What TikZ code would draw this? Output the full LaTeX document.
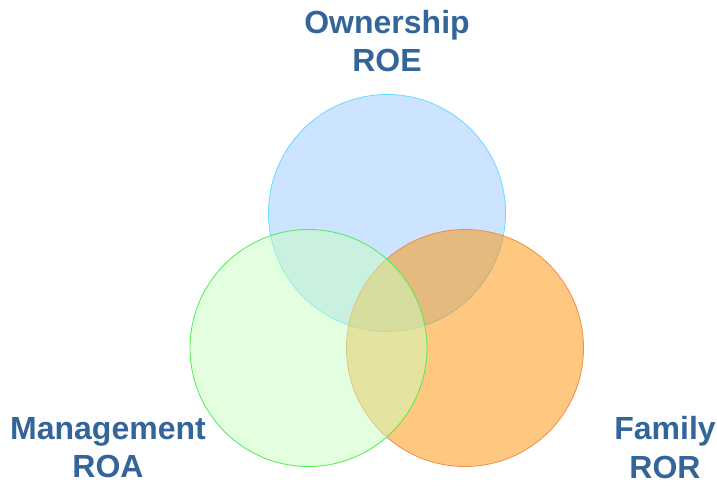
\documentclass[tikz,border=0pt]{standalone}
\usepackage{fontspec}
\setmainfont{Liberation Sans}
\usepackage{color}
\definecolor{titleblue}{RGB}{52,101,154}
\definecolor{ownfill}{RGB}{153,201,255}
\definecolor{ownline}{RGB}{100,220,255}
\definecolor{manfill}{RGB}{201,255,193}
\definecolor{manline}{RGB}{80,235,80}
\definecolor{famfill}{RGB}{255,145,1}
\definecolor{famline}{RGB}{240,140,70}

\begin{document}
\begin{tikzpicture}[x=1pt, y=-1pt,
    ratio/.style={font=\fontsize{32}{38.5}\selectfont\bfseries, text=titleblue, align=center, inner sep=0pt}]
    \useasboundingbox (0,0) rectangle (717,485);
        \foreach \cx/\cy/\fc/\dc in {387/213/ownfill/ownline, 465/348/famfill/famline, 308.5/348/manfill/manline} {
            \filldraw[fill=\fc, draw=\dc, fill opacity=0.5, line width=0.8pt] (\cx,\cy) circle (118.5pt);
        }
          \node[ratio] (own) at (387, 41) {Ownership\\ROE};
          \node[ratio] (man) at (108, 447.5) {Management\\ROA};
          \node[ratio] (fam) at (665, 447.5) {Family\\ROR};
    \end{tikzpicture}
\end{document}
